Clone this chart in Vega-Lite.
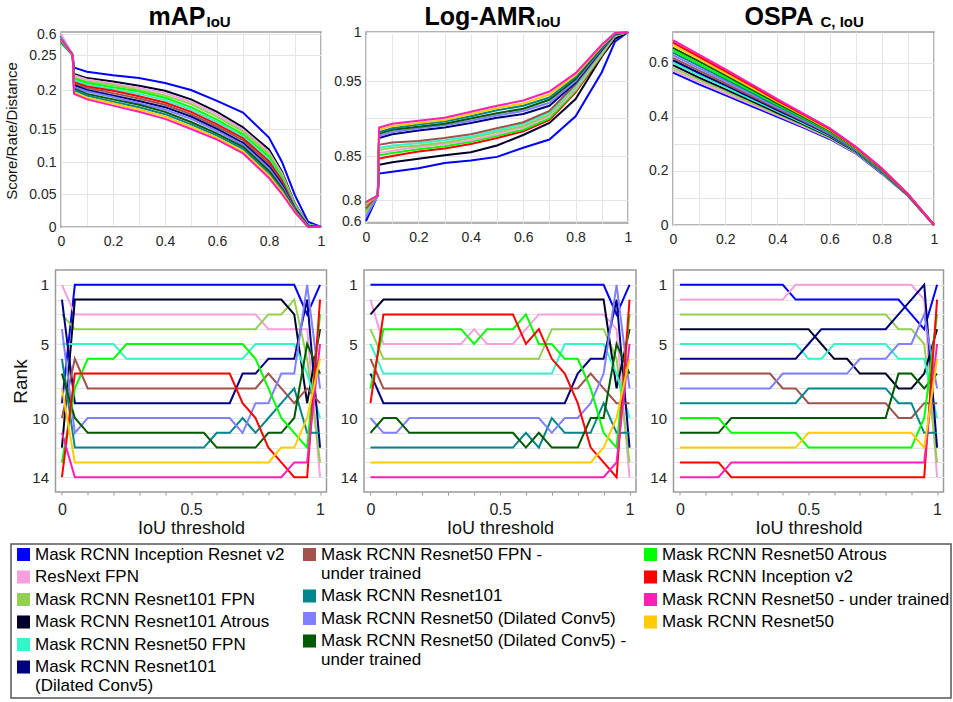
{
"$schema": "https://vega.github.io/schema/vega-lite/v6.json",
"background": "white",
"padding": {"left": 4, "top": 3, "right": 0, "bottom": 0},
"config": {
  "font": "Liberation Sans",
  "view": {"stroke": "#9a9a9a", "strokeWidth": 1.5},
  "axis": {"labelColor": "#262626", "titleColor": "#111111", "gridColor": "#e4e4e4", "domain": false, "ticks": false, "titleFontWeight": "normal", "labelFlush": false, "labelOverlap": false},
  "legend": {"labelFontSize": 17, "labelColor": "#000000", "labelLimit": 600, "labelOffset": 3, "symbolType": "square", "symbolSize": 170, "symbolStrokeWidth": 0, "symbolOpacity": 1, "rowPadding": 4.5, "padding": 0}
},
"datasets": {
"map": [
{"s":"A","x":0,"y":0.55},{"s":"A","x":0.045,"y":0.25},{"s":"A","x":0.05,"y":0.232},{"s":"A","x":0.1,"y":0.226},{"s":"A","x":0.2,"y":0.221},{"s":"A","x":0.3,"y":0.217},{"s":"A","x":0.4,"y":0.21},{"s":"A","x":0.5,"y":0.2},{"s":"A","x":0.6,"y":0.186},{"s":"A","x":0.7,"y":0.171},{"s":"A","x":0.8,"y":0.137},{"s":"A","x":0.85,"y":0.1},{"s":"A","x":0.9,"y":0.048},{"s":"A","x":0.95,"y":0.008},{"s":"A","x":1,"y":0},
{"s":"D","x":0,"y":0.57},{"s":"D","x":0.045,"y":0.25},{"s":"D","x":0.05,"y":0.223},{"s":"D","x":0.1,"y":0.217},{"s":"D","x":0.2,"y":0.212},{"s":"D","x":0.3,"y":0.206},{"s":"D","x":0.4,"y":0.199},{"s":"D","x":0.5,"y":0.188},{"s":"D","x":0.6,"y":0.172},{"s":"D","x":0.7,"y":0.152},{"s":"D","x":0.8,"y":0.119},{"s":"D","x":0.85,"y":0.085},{"s":"D","x":0.9,"y":0.035},{"s":"D","x":0.95,"y":0.004},{"s":"D","x":1,"y":0},
{"s":"B","x":0,"y":0.6},{"s":"B","x":0.045,"y":0.25},{"s":"B","x":0.05,"y":0.221},{"s":"B","x":0.1,"y":0.215},{"s":"B","x":0.2,"y":0.209},{"s":"B","x":0.3,"y":0.203},{"s":"B","x":0.4,"y":0.196},{"s":"B","x":0.5,"y":0.185},{"s":"B","x":0.6,"y":0.169},{"s":"B","x":0.7,"y":0.149},{"s":"B","x":0.8,"y":0.115},{"s":"B","x":0.85,"y":0.082},{"s":"B","x":0.9,"y":0.034},{"s":"B","x":0.95,"y":0.004},{"s":"B","x":1,"y":0},
{"s":"C","x":0,"y":0.5},{"s":"C","x":0.045,"y":0.25},{"s":"C","x":0.05,"y":0.218},{"s":"C","x":0.1,"y":0.212},{"s":"C","x":0.2,"y":0.207},{"s":"C","x":0.3,"y":0.2},{"s":"C","x":0.4,"y":0.193},{"s":"C","x":0.5,"y":0.182},{"s":"C","x":0.6,"y":0.166},{"s":"C","x":0.7,"y":0.146},{"s":"C","x":0.8,"y":0.112},{"s":"C","x":0.85,"y":0.079},{"s":"C","x":0.9,"y":0.033},{"s":"C","x":0.95,"y":0.003},{"s":"C","x":1,"y":0},
{"s":"K","x":0,"y":0.45},{"s":"K","x":0.045,"y":0.25},{"s":"K","x":0.05,"y":0.216},{"s":"K","x":0.1,"y":0.21},{"s":"K","x":0.2,"y":0.204},{"s":"K","x":0.3,"y":0.198},{"s":"K","x":0.4,"y":0.19},{"s":"K","x":0.5,"y":0.178},{"s":"K","x":0.6,"y":0.162},{"s":"K","x":0.7,"y":0.142},{"s":"K","x":0.8,"y":0.108},{"s":"K","x":0.85,"y":0.076},{"s":"K","x":0.9,"y":0.032},{"s":"K","x":0.95,"y":0.003},{"s":"K","x":1,"y":0},
{"s":"E","x":0,"y":0.55},{"s":"E","x":0.045,"y":0.25},{"s":"E","x":0.05,"y":0.214},{"s":"E","x":0.1,"y":0.207},{"s":"E","x":0.2,"y":0.201},{"s":"E","x":0.3,"y":0.195},{"s":"E","x":0.4,"y":0.187},{"s":"E","x":0.5,"y":0.175},{"s":"E","x":0.6,"y":0.159},{"s":"E","x":0.7,"y":0.139},{"s":"E","x":0.8,"y":0.104},{"s":"E","x":0.85,"y":0.073},{"s":"E","x":0.9,"y":0.031},{"s":"E","x":0.95,"y":0.003},{"s":"E","x":1,"y":0},
{"s":"L","x":0,"y":0.52},{"s":"L","x":0.045,"y":0.25},{"s":"L","x":0.05,"y":0.211},{"s":"L","x":0.1,"y":0.205},{"s":"L","x":0.2,"y":0.199},{"s":"L","x":0.3,"y":0.192},{"s":"L","x":0.4,"y":0.184},{"s":"L","x":0.5,"y":0.172},{"s":"L","x":0.6,"y":0.156},{"s":"L","x":0.7,"y":0.136},{"s":"L","x":0.8,"y":0.101},{"s":"L","x":0.85,"y":0.071},{"s":"L","x":0.9,"y":0.029},{"s":"L","x":0.95,"y":0.002},{"s":"L","x":1,"y":0},
{"s":"G","x":0,"y":0.53},{"s":"G","x":0.045,"y":0.25},{"s":"G","x":0.05,"y":0.209},{"s":"G","x":0.1,"y":0.203},{"s":"G","x":0.2,"y":0.196},{"s":"G","x":0.3,"y":0.189},{"s":"G","x":0.4,"y":0.181},{"s":"G","x":0.5,"y":0.169},{"s":"G","x":0.6,"y":0.153},{"s":"G","x":0.7,"y":0.133},{"s":"G","x":0.8,"y":0.097},{"s":"G","x":0.85,"y":0.068},{"s":"G","x":0.9,"y":0.028},{"s":"G","x":0.95,"y":0.002},{"s":"G","x":1,"y":0},
{"s":"F","x":0,"y":0.5},{"s":"F","x":0.045,"y":0.25},{"s":"F","x":0.05,"y":0.207},{"s":"F","x":0.1,"y":0.2},{"s":"F","x":0.2,"y":0.193},{"s":"F","x":0.3,"y":0.186},{"s":"F","x":0.4,"y":0.178},{"s":"F","x":0.5,"y":0.166},{"s":"F","x":0.6,"y":0.15},{"s":"F","x":0.7,"y":0.129},{"s":"F","x":0.8,"y":0.093},{"s":"F","x":0.85,"y":0.065},{"s":"F","x":0.9,"y":0.027},{"s":"F","x":0.95,"y":0.002},{"s":"F","x":1,"y":0},
{"s":"I","x":0,"y":0.54},{"s":"I","x":0.045,"y":0.25},{"s":"I","x":0.05,"y":0.204},{"s":"I","x":0.1,"y":0.198},{"s":"I","x":0.2,"y":0.191},{"s":"I","x":0.3,"y":0.183},{"s":"I","x":0.4,"y":0.175},{"s":"I","x":0.5,"y":0.163},{"s":"I","x":0.6,"y":0.147},{"s":"I","x":0.7,"y":0.126},{"s":"I","x":0.8,"y":0.09},{"s":"I","x":0.85,"y":0.062},{"s":"I","x":0.9,"y":0.026},{"s":"I","x":0.95,"y":0.001},{"s":"I","x":1,"y":0},
{"s":"J","x":0,"y":0.48},{"s":"J","x":0.045,"y":0.25},{"s":"J","x":0.05,"y":0.202},{"s":"J","x":0.1,"y":0.195},{"s":"J","x":0.2,"y":0.188},{"s":"J","x":0.3,"y":0.181},{"s":"J","x":0.4,"y":0.172},{"s":"J","x":0.5,"y":0.159},{"s":"J","x":0.6,"y":0.143},{"s":"J","x":0.7,"y":0.123},{"s":"J","x":0.8,"y":0.086},{"s":"J","x":0.85,"y":0.059},{"s":"J","x":0.9,"y":0.025},{"s":"J","x":0.95,"y":0.001},{"s":"J","x":1,"y":0},
{"s":"H","x":0,"y":0.47},{"s":"H","x":0.045,"y":0.25},{"s":"H","x":0.05,"y":0.2},{"s":"H","x":0.1,"y":0.193},{"s":"H","x":0.2,"y":0.185},{"s":"H","x":0.3,"y":0.178},{"s":"H","x":0.4,"y":0.169},{"s":"H","x":0.5,"y":0.156},{"s":"H","x":0.6,"y":0.14},{"s":"H","x":0.7,"y":0.12},{"s":"H","x":0.8,"y":0.082},{"s":"H","x":0.85,"y":0.056},{"s":"H","x":0.9,"y":0.024},{"s":"H","x":0.95,"y":0.001},{"s":"H","x":1,"y":0},
{"s":"N","x":0,"y":0.5},{"s":"N","x":0.045,"y":0.25},{"s":"N","x":0.05,"y":0.197},{"s":"N","x":0.1,"y":0.19},{"s":"N","x":0.2,"y":0.183},{"s":"N","x":0.3,"y":0.175},{"s":"N","x":0.4,"y":0.166},{"s":"N","x":0.5,"y":0.153},{"s":"N","x":0.6,"y":0.137},{"s":"N","x":0.7,"y":0.116},{"s":"N","x":0.8,"y":0.079},{"s":"N","x":0.85,"y":0.053},{"s":"N","x":0.9,"y":0.023},{"s":"N","x":0.95,"y":0},{"s":"N","x":1,"y":0},
{"s":"M","x":0,"y":0.52},{"s":"M","x":0.045,"y":0.25},{"s":"M","x":0.05,"y":0.195},{"s":"M","x":0.1,"y":0.188},{"s":"M","x":0.2,"y":0.18},{"s":"M","x":0.3,"y":0.172},{"s":"M","x":0.4,"y":0.163},{"s":"M","x":0.5,"y":0.15},{"s":"M","x":0.6,"y":0.134},{"s":"M","x":0.7,"y":0.113},{"s":"M","x":0.8,"y":0.075},{"s":"M","x":0.85,"y":0.05},{"s":"M","x":0.9,"y":0.022},{"s":"M","x":0.95,"y":0},{"s":"M","x":1,"y":0}
],
"amr": [
{"s":"A","x":0,"y":0.6},{"s":"A","x":0.045,"y":0.805},{"s":"A","x":0.05,"y":0.83},{"s":"A","x":0.1,"y":0.832},{"s":"A","x":0.2,"y":0.836},{"s":"A","x":0.3,"y":0.842},{"s":"A","x":0.4,"y":0.845},{"s":"A","x":0.5,"y":0.849},{"s":"A","x":0.6,"y":0.861},{"s":"A","x":0.7,"y":0.872},{"s":"A","x":0.8,"y":0.903},{"s":"A","x":0.9,"y":0.959},{"s":"A","x":0.95,"y":0.99},{"s":"A","x":1,"y":1},
{"s":"D","x":0,"y":0.75},{"s":"D","x":0.045,"y":0.805},{"s":"D","x":0.05,"y":0.84},{"s":"D","x":0.1,"y":0.843},{"s":"D","x":0.2,"y":0.847},{"s":"D","x":0.3,"y":0.851},{"s":"D","x":0.4,"y":0.855},{"s":"D","x":0.5,"y":0.864},{"s":"D","x":0.6,"y":0.878},{"s":"D","x":0.7,"y":0.894},{"s":"D","x":0.8,"y":0.926},{"s":"D","x":0.9,"y":0.975},{"s":"D","x":0.95,"y":0.993},{"s":"D","x":1,"y":1},
{"s":"L","x":0,"y":0.72},{"s":"L","x":0.045,"y":0.805},{"s":"L","x":0.05,"y":0.847},{"s":"L","x":0.1,"y":0.85},{"s":"L","x":0.2,"y":0.856},{"s":"L","x":0.3,"y":0.86},{"s":"L","x":0.4,"y":0.866},{"s":"L","x":0.5,"y":0.874},{"s":"L","x":0.6,"y":0.883},{"s":"L","x":0.7,"y":0.898},{"s":"L","x":0.8,"y":0.935},{"s":"L","x":0.9,"y":0.976},{"s":"L","x":0.95,"y":0.996},{"s":"L","x":1,"y":1},
{"s":"K","x":0,"y":0.7},{"s":"K","x":0.045,"y":0.805},{"s":"K","x":0.05,"y":0.851},{"s":"K","x":0.1,"y":0.854},{"s":"K","x":0.2,"y":0.859},{"s":"K","x":0.3,"y":0.863},{"s":"K","x":0.4,"y":0.869},{"s":"K","x":0.5,"y":0.877},{"s":"K","x":0.6,"y":0.885},{"s":"K","x":0.7,"y":0.9},{"s":"K","x":0.8,"y":0.937},{"s":"K","x":0.9,"y":0.977},{"s":"K","x":0.95,"y":0.996},{"s":"K","x":1,"y":1},
{"s":"B","x":0,"y":0.66},{"s":"B","x":0.045,"y":0.805},{"s":"B","x":0.05,"y":0.854},{"s":"B","x":0.1,"y":0.857},{"s":"B","x":0.2,"y":0.862},{"s":"B","x":0.3,"y":0.866},{"s":"B","x":0.4,"y":0.871},{"s":"B","x":0.5,"y":0.879},{"s":"B","x":0.6,"y":0.888},{"s":"B","x":0.7,"y":0.903},{"s":"B","x":0.8,"y":0.939},{"s":"B","x":0.9,"y":0.978},{"s":"B","x":0.95,"y":0.996},{"s":"B","x":1,"y":1},
{"s":"C","x":0,"y":0.68},{"s":"C","x":0.045,"y":0.805},{"s":"C","x":0.05,"y":0.858},{"s":"C","x":0.1,"y":0.861},{"s":"C","x":0.2,"y":0.864},{"s":"C","x":0.3,"y":0.868},{"s":"C","x":0.4,"y":0.874},{"s":"C","x":0.5,"y":0.882},{"s":"C","x":0.6,"y":0.89},{"s":"C","x":0.7,"y":0.905},{"s":"C","x":0.8,"y":0.942},{"s":"C","x":0.9,"y":0.979},{"s":"C","x":0.95,"y":0.997},{"s":"C","x":1,"y":1},
{"s":"E","x":0,"y":0.74},{"s":"E","x":0.045,"y":0.805},{"s":"E","x":0.05,"y":0.861},{"s":"E","x":0.1,"y":0.864},{"s":"E","x":0.2,"y":0.867},{"s":"E","x":0.3,"y":0.871},{"s":"E","x":0.4,"y":0.876},{"s":"E","x":0.5,"y":0.884},{"s":"E","x":0.6,"y":0.893},{"s":"E","x":0.7,"y":0.908},{"s":"E","x":0.8,"y":0.944},{"s":"E","x":0.9,"y":0.98},{"s":"E","x":0.95,"y":0.997},{"s":"E","x":1,"y":1},
{"s":"G","x":0,"y":0.72},{"s":"G","x":0.045,"y":0.805},{"s":"G","x":0.05,"y":0.865},{"s":"G","x":0.1,"y":0.868},{"s":"G","x":0.2,"y":0.87},{"s":"G","x":0.3,"y":0.874},{"s":"G","x":0.4,"y":0.879},{"s":"G","x":0.5,"y":0.887},{"s":"G","x":0.6,"y":0.895},{"s":"G","x":0.7,"y":0.91},{"s":"G","x":0.8,"y":0.946},{"s":"G","x":0.9,"y":0.981},{"s":"G","x":0.95,"y":0.997},{"s":"G","x":1,"y":1},
{"s":"F","x":0,"y":0.76},{"s":"F","x":0.045,"y":0.805},{"s":"F","x":0.05,"y":0.874},{"s":"F","x":0.1,"y":0.879},{"s":"F","x":0.2,"y":0.884},{"s":"F","x":0.3,"y":0.888},{"s":"F","x":0.4,"y":0.894},{"s":"F","x":0.5,"y":0.901},{"s":"F","x":0.6,"y":0.906},{"s":"F","x":0.7,"y":0.917},{"s":"F","x":0.8,"y":0.948},{"s":"F","x":0.9,"y":0.982},{"s":"F","x":0.95,"y":0.998},{"s":"F","x":1,"y":1},
{"s":"I","x":0,"y":0.64},{"s":"I","x":0.045,"y":0.805},{"s":"I","x":0.05,"y":0.877},{"s":"I","x":0.1,"y":0.882},{"s":"I","x":0.2,"y":0.887},{"s":"I","x":0.3,"y":0.891},{"s":"I","x":0.4,"y":0.897},{"s":"I","x":0.5,"y":0.904},{"s":"I","x":0.6,"y":0.91},{"s":"I","x":0.7,"y":0.921},{"s":"I","x":0.8,"y":0.95},{"s":"I","x":0.9,"y":0.983},{"s":"I","x":0.95,"y":0.998},{"s":"I","x":1,"y":1},
{"s":"J","x":0,"y":0.77},{"s":"J","x":0.045,"y":0.805},{"s":"J","x":0.05,"y":0.88},{"s":"J","x":0.1,"y":0.885},{"s":"J","x":0.2,"y":0.889},{"s":"J","x":0.3,"y":0.893},{"s":"J","x":0.4,"y":0.9},{"s":"J","x":0.5,"y":0.907},{"s":"J","x":0.6,"y":0.913},{"s":"J","x":0.7,"y":0.925},{"s":"J","x":0.8,"y":0.952},{"s":"J","x":0.9,"y":0.984},{"s":"J","x":0.95,"y":0.998},{"s":"J","x":1,"y":1},
{"s":"H","x":0,"y":0.78},{"s":"H","x":0.045,"y":0.805},{"s":"H","x":0.05,"y":0.882},{"s":"H","x":0.1,"y":0.887},{"s":"H","x":0.2,"y":0.892},{"s":"H","x":0.3,"y":0.896},{"s":"H","x":0.4,"y":0.903},{"s":"H","x":0.5,"y":0.911},{"s":"H","x":0.6,"y":0.917},{"s":"H","x":0.7,"y":0.928},{"s":"H","x":0.8,"y":0.954},{"s":"H","x":0.9,"y":0.985},{"s":"H","x":0.95,"y":0.998},{"s":"H","x":1,"y":1},
{"s":"N","x":0,"y":0.76},{"s":"N","x":0.045,"y":0.805},{"s":"N","x":0.05,"y":0.885},{"s":"N","x":0.1,"y":0.89},{"s":"N","x":0.2,"y":0.894},{"s":"N","x":0.3,"y":0.898},{"s":"N","x":0.4,"y":0.906},{"s":"N","x":0.5,"y":0.914},{"s":"N","x":0.6,"y":0.92},{"s":"N","x":0.7,"y":0.932},{"s":"N","x":0.8,"y":0.956},{"s":"N","x":0.9,"y":0.986},{"s":"N","x":0.95,"y":0.999},{"s":"N","x":1,"y":1},
{"s":"M","x":0,"y":0.78},{"s":"M","x":0.045,"y":0.805},{"s":"M","x":0.05,"y":0.888},{"s":"M","x":0.1,"y":0.893},{"s":"M","x":0.2,"y":0.897},{"s":"M","x":0.3,"y":0.901},{"s":"M","x":0.4,"y":0.909},{"s":"M","x":0.5,"y":0.917},{"s":"M","x":0.6,"y":0.924},{"s":"M","x":0.7,"y":0.936},{"s":"M","x":0.8,"y":0.958},{"s":"M","x":0.9,"y":0.987},{"s":"M","x":0.95,"y":0.999},{"s":"M","x":1,"y":1}
],
"ospa": [
{"s":"A","x":0,"y":0.563},{"s":"A","x":0.1,"y":0.52},{"s":"A","x":0.2,"y":0.48},{"s":"A","x":0.3,"y":0.44},{"s":"A","x":0.4,"y":0.4},{"s":"A","x":0.5,"y":0.36},{"s":"A","x":0.6,"y":0.318},{"s":"A","x":0.7,"y":0.265},{"s":"A","x":0.8,"y":0.19},{"s":"A","x":0.9,"y":0.108},{"s":"A","x":1,"y":0},
{"s":"B","x":0,"y":0.572},{"s":"B","x":0.1,"y":0.528},{"s":"B","x":0.2,"y":0.487},{"s":"B","x":0.3,"y":0.446},{"s":"B","x":0.4,"y":0.405},{"s":"B","x":0.5,"y":0.364},{"s":"B","x":0.6,"y":0.321},{"s":"B","x":0.7,"y":0.267},{"s":"B","x":0.8,"y":0.192},{"s":"B","x":0.9,"y":0.109},{"s":"B","x":1,"y":0},
{"s":"C","x":0,"y":0.581},{"s":"C","x":0.1,"y":0.537},{"s":"C","x":0.2,"y":0.495},{"s":"C","x":0.3,"y":0.452},{"s":"C","x":0.4,"y":0.41},{"s":"C","x":0.5,"y":0.368},{"s":"C","x":0.6,"y":0.324},{"s":"C","x":0.7,"y":0.269},{"s":"C","x":0.8,"y":0.193},{"s":"C","x":0.9,"y":0.109},{"s":"C","x":1,"y":0},
{"s":"D","x":0,"y":0.591},{"s":"D","x":0.1,"y":0.545},{"s":"D","x":0.2,"y":0.502},{"s":"D","x":0.3,"y":0.459},{"s":"D","x":0.4,"y":0.415},{"s":"D","x":0.5,"y":0.372},{"s":"D","x":0.6,"y":0.327},{"s":"D","x":0.7,"y":0.271},{"s":"D","x":0.8,"y":0.195},{"s":"D","x":0.9,"y":0.11},{"s":"D","x":1,"y":0},
{"s":"E","x":0,"y":0.6},{"s":"E","x":0.1,"y":0.554},{"s":"E","x":0.2,"y":0.51},{"s":"E","x":0.3,"y":0.465},{"s":"E","x":0.4,"y":0.42},{"s":"E","x":0.5,"y":0.376},{"s":"E","x":0.6,"y":0.33},{"s":"E","x":0.7,"y":0.273},{"s":"E","x":0.8,"y":0.196},{"s":"E","x":0.9,"y":0.11},{"s":"E","x":1,"y":0},
{"s":"F","x":0,"y":0.609},{"s":"F","x":0.1,"y":0.562},{"s":"F","x":0.2,"y":0.517},{"s":"F","x":0.3,"y":0.471},{"s":"F","x":0.4,"y":0.425},{"s":"F","x":0.5,"y":0.38},{"s":"F","x":0.6,"y":0.333},{"s":"F","x":0.7,"y":0.275},{"s":"F","x":0.8,"y":0.198},{"s":"F","x":0.9,"y":0.111},{"s":"F","x":1,"y":0},
{"s":"G","x":0,"y":0.618},{"s":"G","x":0.1,"y":0.571},{"s":"G","x":0.2,"y":0.524},{"s":"G","x":0.3,"y":0.477},{"s":"G","x":0.4,"y":0.43},{"s":"G","x":0.5,"y":0.384},{"s":"G","x":0.6,"y":0.336},{"s":"G","x":0.7,"y":0.277},{"s":"G","x":0.8,"y":0.199},{"s":"G","x":0.9,"y":0.111},{"s":"G","x":1,"y":0},
{"s":"I","x":0,"y":0.628},{"s":"I","x":0.1,"y":0.579},{"s":"I","x":0.2,"y":0.532},{"s":"I","x":0.3,"y":0.484},{"s":"I","x":0.4,"y":0.435},{"s":"I","x":0.5,"y":0.388},{"s":"I","x":0.6,"y":0.34},{"s":"I","x":0.7,"y":0.278},{"s":"I","x":0.8,"y":0.201},{"s":"I","x":0.9,"y":0.112},{"s":"I","x":1,"y":0},
{"s":"H","x":0,"y":0.637},{"s":"H","x":0.1,"y":0.588},{"s":"H","x":0.2,"y":0.539},{"s":"H","x":0.3,"y":0.49},{"s":"H","x":0.4,"y":0.44},{"s":"H","x":0.5,"y":0.392},{"s":"H","x":0.6,"y":0.343},{"s":"H","x":0.7,"y":0.28},{"s":"H","x":0.8,"y":0.202},{"s":"H","x":0.9,"y":0.112},{"s":"H","x":1,"y":0},
{"s":"K","x":0,"y":0.646},{"s":"K","x":0.1,"y":0.596},{"s":"K","x":0.2,"y":0.546},{"s":"K","x":0.3,"y":0.496},{"s":"K","x":0.4,"y":0.445},{"s":"K","x":0.5,"y":0.396},{"s":"K","x":0.6,"y":0.346},{"s":"K","x":0.7,"y":0.282},{"s":"K","x":0.8,"y":0.204},{"s":"K","x":0.9,"y":0.113},{"s":"K","x":1,"y":0},
{"s":"J","x":0,"y":0.655},{"s":"J","x":0.1,"y":0.605},{"s":"J","x":0.2,"y":0.554},{"s":"J","x":0.3,"y":0.502},{"s":"J","x":0.4,"y":0.45},{"s":"J","x":0.5,"y":0.4},{"s":"J","x":0.6,"y":0.349},{"s":"J","x":0.7,"y":0.284},{"s":"J","x":0.8,"y":0.205},{"s":"J","x":0.9,"y":0.113},{"s":"J","x":1,"y":0},
{"s":"N","x":0,"y":0.665},{"s":"N","x":0.1,"y":0.613},{"s":"N","x":0.2,"y":0.561},{"s":"N","x":0.3,"y":0.508},{"s":"N","x":0.4,"y":0.455},{"s":"N","x":0.5,"y":0.404},{"s":"N","x":0.6,"y":0.352},{"s":"N","x":0.7,"y":0.286},{"s":"N","x":0.8,"y":0.207},{"s":"N","x":0.9,"y":0.114},{"s":"N","x":1,"y":0},
{"s":"L","x":0,"y":0.674},{"s":"L","x":0.1,"y":0.622},{"s":"L","x":0.2,"y":0.569},{"s":"L","x":0.3,"y":0.515},{"s":"L","x":0.4,"y":0.46},{"s":"L","x":0.5,"y":0.408},{"s":"L","x":0.6,"y":0.355},{"s":"L","x":0.7,"y":0.288},{"s":"L","x":0.8,"y":0.208},{"s":"L","x":0.9,"y":0.114},{"s":"L","x":1,"y":0},
{"s":"M","x":0,"y":0.683},{"s":"M","x":0.1,"y":0.63},{"s":"M","x":0.2,"y":0.576},{"s":"M","x":0.3,"y":0.521},{"s":"M","x":0.4,"y":0.465},{"s":"M","x":0.5,"y":0.412},{"s":"M","x":0.6,"y":0.358},{"s":"M","x":0.7,"y":0.29},{"s":"M","x":0.8,"y":0.21},{"s":"M","x":0.9,"y":0.115},{"s":"M","x":1,"y":0}
],
"rmap": [
{"s":"A","x":0,"y":9},{"s":"A","x":0.05,"y":1},{"s":"A","x":0.9,"y":1},{"s":"A","x":0.95,"y":3},{"s":"A","x":1,"y":1},
{"s":"B","x":0,"y":1},{"s":"B","x":0.05,"y":3},{"s":"B","x":0.75,"y":3},{"s":"B","x":0.8,"y":4},{"s":"B","x":0.95,"y":4},{"s":"B","x":1,"y":14},
{"s":"C","x":0,"y":3},{"s":"C","x":0.05,"y":4},{"s":"C","x":0.75,"y":4},{"s":"C","x":0.8,"y":3},{"s":"C","x":0.85,"y":3},{"s":"C","x":0.9,"y":2},{"s":"C","x":0.95,"y":6},{"s":"C","x":1,"y":13},
{"s":"D","x":0,"y":12},{"s":"D","x":0.05,"y":2},{"s":"D","x":0.85,"y":2},{"s":"D","x":0.9,"y":3},{"s":"D","x":0.95,"y":9},{"s":"D","x":1,"y":4},
{"s":"E","x":0,"y":5},{"s":"E","x":0.2,"y":5},{"s":"E","x":0.25,"y":6},{"s":"E","x":0.7,"y":6},{"s":"E","x":0.75,"y":5},{"s":"E","x":0.9,"y":5},{"s":"E","x":0.95,"y":7},{"s":"E","x":1,"y":10},
{"s":"F","x":0,"y":2},{"s":"F","x":0.05,"y":9},{"s":"F","x":0.65,"y":9},{"s":"F","x":0.7,"y":7},{"s":"F","x":0.75,"y":7},{"s":"F","x":0.8,"y":6},{"s":"F","x":0.9,"y":6},{"s":"F","x":0.95,"y":2},{"s":"F","x":1,"y":12},
{"s":"G","x":0,"y":10},{"s":"G","x":0.05,"y":6},{"s":"G","x":0.1,"y":8},{"s":"G","x":0.75,"y":8},{"s":"G","x":0.8,"y":7},{"s":"G","x":0.85,"y":8},{"s":"G","x":0.9,"y":9},{"s":"G","x":0.95,"y":8},{"s":"G","x":1,"y":9},
{"s":"H","x":0,"y":6},{"s":"H","x":0.05,"y":12},{"s":"H","x":0.55,"y":12},{"s":"H","x":0.6,"y":11},{"s":"H","x":0.65,"y":11},{"s":"H","x":0.7,"y":10},{"s":"H","x":0.75,"y":11},{"s":"H","x":0.8,"y":10},{"s":"H","x":0.85,"y":9},{"s":"H","x":0.9,"y":8},{"s":"H","x":0.95,"y":11},{"s":"H","x":1,"y":11},
{"s":"I","x":0,"y":4},{"s":"I","x":0.05,"y":11},{"s":"I","x":0.1,"y":10},{"s":"I","x":0.65,"y":10},{"s":"I","x":0.7,"y":11},{"s":"I","x":0.75,"y":9},{"s":"I","x":0.8,"y":9},{"s":"I","x":0.85,"y":7},{"s":"I","x":0.9,"y":7},{"s":"I","x":0.95,"y":1},{"s":"I","x":1,"y":8},
{"s":"J","x":0,"y":7},{"s":"J","x":0.05,"y":10},{"s":"J","x":0.1,"y":11},{"s":"J","x":0.55,"y":11},{"s":"J","x":0.6,"y":12},{"s":"J","x":0.75,"y":12},{"s":"J","x":0.8,"y":11},{"s":"J","x":0.85,"y":11},{"s":"J","x":0.9,"y":10},{"s":"J","x":0.95,"y":5},{"s":"J","x":1,"y":7},
{"s":"K","x":0,"y":13},{"s":"K","x":0.05,"y":8},{"s":"K","x":0.1,"y":6},{"s":"K","x":0.2,"y":6},{"s":"K","x":0.25,"y":5},{"s":"K","x":0.7,"y":5},{"s":"K","x":0.75,"y":6},{"s":"K","x":0.8,"y":8},{"s":"K","x":0.85,"y":10},{"s":"K","x":0.9,"y":11},{"s":"K","x":0.95,"y":12},{"s":"K","x":1,"y":3},
{"s":"L","x":0,"y":14},{"s":"L","x":0.05,"y":7},{"s":"L","x":0.65,"y":7},{"s":"L","x":0.7,"y":9},{"s":"L","x":0.75,"y":10},{"s":"L","x":0.8,"y":12},{"s":"L","x":0.85,"y":13},{"s":"L","x":0.9,"y":14},{"s":"L","x":0.95,"y":14},{"s":"L","x":1,"y":2},
{"s":"M","x":0,"y":11},{"s":"M","x":0.05,"y":14},{"s":"M","x":0.85,"y":14},{"s":"M","x":0.9,"y":13},{"s":"M","x":0.95,"y":13},{"s":"M","x":1,"y":5},
{"s":"N","x":0,"y":8},{"s":"N","x":0.05,"y":13},{"s":"N","x":0.8,"y":13},{"s":"N","x":0.85,"y":12},{"s":"N","x":0.9,"y":12},{"s":"N","x":0.95,"y":10},{"s":"N","x":1,"y":6}
],
"ramr": [
{"s":"A","x":0,"y":1},{"s":"A","x":0.9,"y":1},{"s":"A","x":0.95,"y":3},{"s":"A","x":1,"y":1},
{"s":"B","x":0,"y":2},{"s":"B","x":0.05,"y":5},{"s":"B","x":0.35,"y":5},{"s":"B","x":0.4,"y":4},{"s":"B","x":0.45,"y":5},{"s":"B","x":0.55,"y":5},{"s":"B","x":0.6,"y":4},{"s":"B","x":0.65,"y":3},{"s":"B","x":0.9,"y":3},{"s":"B","x":0.95,"y":4},{"s":"B","x":1,"y":14},
{"s":"C","x":0,"y":4},{"s":"C","x":0.05,"y":6},{"s":"C","x":0.65,"y":6},{"s":"C","x":0.7,"y":4},{"s":"C","x":0.9,"y":4},{"s":"C","x":0.95,"y":6},{"s":"C","x":1,"y":13},
{"s":"D","x":0,"y":3},{"s":"D","x":0.05,"y":2},{"s":"D","x":0.9,"y":2},{"s":"D","x":0.95,"y":8},{"s":"D","x":1,"y":4},
{"s":"E","x":0,"y":5},{"s":"E","x":0.05,"y":7},{"s":"E","x":0.7,"y":7},{"s":"E","x":0.75,"y":5},{"s":"E","x":0.9,"y":5},{"s":"E","x":0.95,"y":7},{"s":"E","x":1,"y":10},
{"s":"F","x":0,"y":7},{"s":"F","x":0.05,"y":9},{"s":"F","x":0.75,"y":9},{"s":"F","x":0.8,"y":7},{"s":"F","x":0.85,"y":6},{"s":"F","x":0.9,"y":6},{"s":"F","x":0.95,"y":2},{"s":"F","x":1,"y":12},
{"s":"G","x":0,"y":6},{"s":"G","x":0.05,"y":8},{"s":"G","x":0.8,"y":8},{"s":"G","x":0.85,"y":7},{"s":"G","x":0.9,"y":8},{"s":"G","x":0.95,"y":9},{"s":"G","x":1,"y":9},
{"s":"H","x":0,"y":12},{"s":"H","x":0.55,"y":12},{"s":"H","x":0.6,"y":11},{"s":"H","x":0.65,"y":12},{"s":"H","x":0.7,"y":10},{"s":"H","x":0.75,"y":11},{"s":"H","x":0.85,"y":11},{"s":"H","x":0.9,"y":9},{"s":"H","x":0.95,"y":11},{"s":"H","x":1,"y":11},
{"s":"I","x":0,"y":10},{"s":"I","x":0.05,"y":11},{"s":"I","x":0.1,"y":11},{"s":"I","x":0.15,"y":10},{"s":"I","x":0.65,"y":10},{"s":"I","x":0.7,"y":11},{"s":"I","x":0.75,"y":10},{"s":"I","x":0.8,"y":10},{"s":"I","x":0.85,"y":9},{"s":"I","x":0.9,"y":7},{"s":"I","x":0.95,"y":1},{"s":"I","x":1,"y":8},
{"s":"J","x":0,"y":11},{"s":"J","x":0.05,"y":10},{"s":"J","x":0.1,"y":10},{"s":"J","x":0.15,"y":11},{"s":"J","x":0.55,"y":11},{"s":"J","x":0.6,"y":12},{"s":"J","x":0.65,"y":11},{"s":"J","x":0.7,"y":12},{"s":"J","x":0.8,"y":12},{"s":"J","x":0.85,"y":10},{"s":"J","x":0.9,"y":10},{"s":"J","x":0.95,"y":5},{"s":"J","x":1,"y":7},
{"s":"K","x":0,"y":8},{"s":"K","x":0.05,"y":4},{"s":"K","x":0.35,"y":4},{"s":"K","x":0.4,"y":5},{"s":"K","x":0.45,"y":4},{"s":"K","x":0.55,"y":4},{"s":"K","x":0.6,"y":3},{"s":"K","x":0.65,"y":5},{"s":"K","x":0.7,"y":5},{"s":"K","x":0.75,"y":6},{"s":"K","x":0.8,"y":6},{"s":"K","x":0.85,"y":8},{"s":"K","x":0.9,"y":11},{"s":"K","x":0.95,"y":12},{"s":"K","x":1,"y":3},
{"s":"L","x":0,"y":9},{"s":"L","x":0.05,"y":3},{"s":"L","x":0.55,"y":3},{"s":"L","x":0.6,"y":5},{"s":"L","x":0.65,"y":4},{"s":"L","x":0.7,"y":6},{"s":"L","x":0.75,"y":7},{"s":"L","x":0.8,"y":9},{"s":"L","x":0.85,"y":12},{"s":"L","x":0.9,"y":13},{"s":"L","x":0.95,"y":14},{"s":"L","x":1,"y":2},
{"s":"M","x":0,"y":14},{"s":"M","x":0.9,"y":14},{"s":"M","x":0.95,"y":13},{"s":"M","x":1,"y":5},
{"s":"N","x":0,"y":13},{"s":"N","x":0.85,"y":13},{"s":"N","x":0.9,"y":12},{"s":"N","x":0.95,"y":10},{"s":"N","x":1,"y":6}
],
"rospa": [
{"s":"A","x":0,"y":1},{"s":"A","x":0.4,"y":1},{"s":"A","x":0.45,"y":2},{"s":"A","x":0.85,"y":2},{"s":"A","x":0.9,"y":3},{"s":"A","x":0.95,"y":4},{"s":"A","x":1,"y":1},
{"s":"B","x":0,"y":2},{"s":"B","x":0.4,"y":2},{"s":"B","x":0.45,"y":1},{"s":"B","x":0.9,"y":1},{"s":"B","x":0.95,"y":2},{"s":"B","x":1,"y":14},
{"s":"C","x":0,"y":3},{"s":"C","x":0.8,"y":3},{"s":"C","x":0.85,"y":4},{"s":"C","x":0.9,"y":4},{"s":"C","x":0.95,"y":5},{"s":"C","x":1,"y":13},
{"s":"D","x":0,"y":4},{"s":"D","x":0.5,"y":4},{"s":"D","x":0.55,"y":5},{"s":"D","x":0.6,"y":6},{"s":"D","x":0.65,"y":6},{"s":"D","x":0.7,"y":7},{"s":"D","x":0.8,"y":7},{"s":"D","x":0.85,"y":8},{"s":"D","x":0.9,"y":8},{"s":"D","x":0.95,"y":7},{"s":"D","x":1,"y":4},
{"s":"E","x":0,"y":5},{"s":"E","x":0.45,"y":5},{"s":"E","x":0.5,"y":6},{"s":"E","x":0.55,"y":6},{"s":"E","x":0.6,"y":5},{"s":"E","x":0.8,"y":5},{"s":"E","x":0.85,"y":6},{"s":"E","x":0.95,"y":6},{"s":"E","x":1,"y":10},
{"s":"F","x":0,"y":6},{"s":"F","x":0.45,"y":6},{"s":"F","x":0.5,"y":5},{"s":"F","x":0.55,"y":4},{"s":"F","x":0.8,"y":4},{"s":"F","x":0.85,"y":3},{"s":"F","x":0.9,"y":2},{"s":"F","x":0.95,"y":1},{"s":"F","x":1,"y":12},
{"s":"G","x":0,"y":7},{"s":"G","x":0.35,"y":7},{"s":"G","x":0.4,"y":8},{"s":"G","x":0.45,"y":8},{"s":"G","x":0.5,"y":9},{"s":"G","x":0.8,"y":9},{"s":"G","x":0.85,"y":10},{"s":"G","x":0.9,"y":10},{"s":"G","x":0.95,"y":9},{"s":"G","x":1,"y":9},
{"s":"H","x":0,"y":9},{"s":"H","x":0.45,"y":9},{"s":"H","x":0.5,"y":8},{"s":"H","x":0.8,"y":8},{"s":"H","x":0.85,"y":9},{"s":"H","x":0.9,"y":9},{"s":"H","x":0.95,"y":11},{"s":"H","x":1,"y":11},
{"s":"I","x":0,"y":8},{"s":"I","x":0.35,"y":8},{"s":"I","x":0.4,"y":7},{"s":"I","x":0.65,"y":7},{"s":"I","x":0.7,"y":6},{"s":"I","x":0.8,"y":6},{"s":"I","x":0.85,"y":5},{"s":"I","x":0.9,"y":5},{"s":"I","x":0.95,"y":3},{"s":"I","x":1,"y":8},
{"s":"J","x":0,"y":11},{"s":"J","x":0.15,"y":11},{"s":"J","x":0.2,"y":10},{"s":"J","x":0.8,"y":10},{"s":"J","x":0.85,"y":7},{"s":"J","x":0.9,"y":7},{"s":"J","x":0.95,"y":8},{"s":"J","x":1,"y":7},
{"s":"K","x":0,"y":10},{"s":"K","x":0.15,"y":10},{"s":"K","x":0.2,"y":11},{"s":"K","x":0.45,"y":11},{"s":"K","x":0.5,"y":12},{"s":"K","x":0.9,"y":12},{"s":"K","x":0.95,"y":10},{"s":"K","x":1,"y":3},
{"s":"L","x":0,"y":13},{"s":"L","x":0.15,"y":13},{"s":"L","x":0.2,"y":14},{"s":"L","x":0.95,"y":14},{"s":"L","x":1,"y":2},
{"s":"M","x":0,"y":14},{"s":"M","x":0.15,"y":14},{"s":"M","x":0.2,"y":13},{"s":"M","x":0.95,"y":13},{"s":"M","x":1,"y":5},
{"s":"N","x":0,"y":12},{"s":"N","x":0.45,"y":12},{"s":"N","x":0.5,"y":11},{"s":"N","x":0.9,"y":11},{"s":"N","x":0.95,"y":12},{"s":"N","x":1,"y":6}
]
},
"vconcat": [
{"hconcat": [
{"width": 5, "height": 195, "data": {"values": []}, "mark": "point", "view": {"stroke": null}},
{"width": 260, "height": 195, "data": {"name": "map"},
 "layer": [
  {"mark": {"type": "line", "strokeWidth": 2},
   "encoding": {
    "x": {"field": "x", "type": "quantitative", "scale": {"domain": [0, 1], "nice": false}, "axis": {"values": [0,0.1,0.2,0.3,0.4,0.5,0.6,0.7,0.8,0.9,1], "format": ".2~g", "labelExpr": "round(datum.value*10) % 2 == 1 ? '' : datum.label", "labelFontSize": 14, "labelPadding": 7, "title": " ", "titleFontSize": 15, "titlePadding": 0}},
    "y": {"field": "y", "type": "quantitative", "scale": {"domain": [0,0.05,0.1,0.15,0.2,0.25,0.6], "range": [195,162,130,97,58,23,2], "nice": false, "zero": false}, "axis": {"orient": "left", "values": [0,0.05,0.1,0.15,0.2,0.25,0.6], "format": ".2~g", "labelFontSize": 14, "labelPadding": 5, "title": "Score/Rate/Distance", "titleFontSize": 15, "titlePadding": 9}},
    "color": {"field": "s", "type": "nominal", "scale": {"domain": ["A","B","C","D","E","F","G","H","I","J","K","L","M","N"], "range": ["#0000ff","#f5a0dc","#92d050","#00002a","#33f5c8","#00007f","#a0524b","#00868b","#8080ff","#005a00","#00ff00","#ff0000","#ff1fb4","#ffcc00"]}, "legend": null}
   }},
  {"mark": {"type": "line", "opacity": 0}, "encoding": {"y": {"field": "y", "type": "quantitative", "scale": {"domain": [0,0.05,0.1,0.15,0.2,0.25,0.6], "range": [195,162,130,97,58,23,2], "nice": false, "zero": false}, "axis": null}, "x": {"field": "x", "type": "quantitative", "scale": {"domain": [0, 1], "nice": false}, "axis": {"orient": "top", "title": "mAP", "titleFontSize": 25, "titleFontWeight": "bold", "titleColor": "#000000", "titleX": 87, "titleY": -8, "titleAlign": "left", "titleBaseline": "alphabetic", "labels": false, "ticks": false, "domain": false, "grid": false}}}},
  {"mark": {"type": "line", "opacity": 0}, "encoding": {"y": {"field": "y", "type": "quantitative", "scale": {"domain": [0,0.05,0.1,0.15,0.2,0.25,0.6], "range": [195,162,130,97,58,23,2], "nice": false, "zero": false}, "axis": null}, "x": {"field": "x", "type": "quantitative", "scale": {"domain": [0, 1], "nice": false}, "axis": {"orient": "top", "title": "IoU", "titleFontSize": 15, "titleFontWeight": "bold", "titleColor": "#000000", "titleX": 145, "titleY": -6, "titleAlign": "left", "titleBaseline": "alphabetic", "labels": false, "ticks": false, "domain": false, "grid": false}}}}
 ],
 "resolve": {"axis": {"x": "independent", "y": "independent"}}
},
{"width": 262, "height": 191, "data": {"name": "amr"},
 "layer": [
  {"mark": {"type": "line", "strokeWidth": 2},
   "encoding": {
    "x": {"field": "x", "type": "quantitative", "scale": {"domain": [0, 1], "nice": false}, "axis": {"values": [0,0.1,0.2,0.3,0.4,0.5,0.6,0.7,0.8,0.9,1], "format": ".2~g", "labelExpr": "round(datum.value*10) % 2 == 1 ? '' : datum.label", "labelFontSize": 14, "labelPadding": 7, "title": null}},
    "y": {"field": "y", "type": "quantitative", "scale": {"domain": [0.6,0.8,0.85,0.95,1], "range": [189,168,124,49,0], "nice": false, "zero": false}, "axis": {"orient": "left", "values": [0.6,0.8,0.85,0.9,0.95,1], "format": ".2~g", "labelExpr": "datum.value == 0.9 ? '' : datum.label", "labelFontSize": 14, "labelPadding": 5, "title": null}},
    "color": {"field": "s", "type": "nominal", "scale": {"domain": ["A","B","C","D","E","F","G","H","I","J","K","L","M","N"], "range": ["#0000ff","#f5a0dc","#92d050","#00002a","#33f5c8","#00007f","#a0524b","#00868b","#8080ff","#005a00","#00ff00","#ff0000","#ff1fb4","#ffcc00"]}, "legend": null}
   }},
  {"mark": {"type": "line", "opacity": 0}, "encoding": {"y": {"field": "y", "type": "quantitative", "scale": {"domain": [0.6,0.8,0.85,0.95,1], "range": [189,168,124,49,0], "nice": false, "zero": false}, "axis": null}, "x": {"field": "x", "type": "quantitative", "scale": {"domain": [0, 1], "nice": false}, "axis": {"orient": "top", "title": "Log-AMR", "titleFontSize": 25, "titleFontWeight": "bold", "titleColor": "#000000", "titleX": 58, "titleY": -8, "titleAlign": "left", "titleBaseline": "alphabetic", "labels": false, "ticks": false, "domain": false, "grid": false}}}},
  {"mark": {"type": "line", "opacity": 0}, "encoding": {"y": {"field": "y", "type": "quantitative", "scale": {"domain": [0.6,0.8,0.85,0.95,1], "range": [189,168,124,49,0], "nice": false, "zero": false}, "axis": null}, "x": {"field": "x", "type": "quantitative", "scale": {"domain": [0, 1], "nice": false}, "axis": {"orient": "top", "title": "IoU", "titleFontSize": 15, "titleFontWeight": "bold", "titleColor": "#000000", "titleX": 170, "titleY": -6, "titleAlign": "left", "titleBaseline": "alphabetic", "labels": false, "ticks": false, "domain": false, "grid": false}}}}
 ],
 "resolve": {"axis": {"x": "independent", "y": "independent"}}
},
{"width": 261, "height": 193, "data": {"name": "ospa"},
 "layer": [
  {"mark": {"type": "line", "strokeWidth": 2},
   "encoding": {
    "x": {"field": "x", "type": "quantitative", "scale": {"domain": [0, 1], "nice": false}, "axis": {"values": [0,0.1,0.2,0.3,0.4,0.5,0.6,0.7,0.8,0.9,1], "format": ".2~g", "labelExpr": "round(datum.value*10) % 2 == 1 ? '' : datum.label", "labelFontSize": 14, "labelPadding": 7, "title": null}},
    "y": {"field": "y", "type": "quantitative", "scale": {"domain": [0, 0.7135], "nice": false, "zero": false}, "axis": {"orient": "left", "values": [0,0.1,0.2,0.3,0.4,0.5,0.6], "format": ".2~g", "labelExpr": "round(datum.value*10) % 2 == 1 ? '' : datum.label", "labelFontSize": 14, "labelPadding": 5, "title": null}},
    "color": {"field": "s", "type": "nominal", "scale": {"domain": ["A","B","C","D","E","F","G","H","I","J","K","L","M","N"], "range": ["#0000ff","#f5a0dc","#92d050","#00002a","#33f5c8","#00007f","#a0524b","#00868b","#8080ff","#005a00","#00ff00","#ff0000","#ff1fb4","#ffcc00"]}, "legend": null}
   }},
  {"mark": {"type": "line", "opacity": 0}, "encoding": {"y": {"field": "y", "type": "quantitative", "scale": {"domain": [0, 0.7135], "nice": false, "zero": false}, "axis": null}, "x": {"field": "x", "type": "quantitative", "scale": {"domain": [0, 1], "nice": false}, "axis": {"orient": "top", "title": "OSPA", "titleFontSize": 25, "titleFontWeight": "bold", "titleColor": "#000000", "titleX": 71, "titleY": -8, "titleAlign": "left", "titleBaseline": "alphabetic", "labels": false, "ticks": false, "domain": false, "grid": false}}}},
  {"mark": {"type": "line", "opacity": 0}, "encoding": {"y": {"field": "y", "type": "quantitative", "scale": {"domain": [0, 0.7135], "nice": false, "zero": false}, "axis": null}, "x": {"field": "x", "type": "quantitative", "scale": {"domain": [0, 1], "nice": false}, "axis": {"orient": "top", "title": "C, IoU", "titleFontSize": 15, "titleFontWeight": "bold", "titleColor": "#000000", "titleX": 147, "titleY": -6, "titleAlign": "left", "titleBaseline": "alphabetic", "labels": false, "ticks": false, "domain": false, "grid": false}}}}
 ],
 "resolve": {"axis": {"x": "independent", "y": "independent"}}
}
], "spacing": 45, "bounds": "flush"},
{"hconcat": [
{"width": 6.5, "height": 222, "data": {"values": []}, "mark": "point", "view": {"stroke": null}},
{"width": 271, "height": 222, "data": {"name": "rmap"},
 "mark": {"type": "line", "strokeWidth": 2},
 "encoding": {
  "x": {"field": "x", "type": "quantitative", "scale": {"domain": [-0.025, 1.025], "nice": false}, "axis": {"values": [0,0.1,0.2,0.3,0.4,0.5,0.6,0.7,0.8,0.9,1], "format": ".2~g", "labelExpr": "indexof([0,0.5,1], datum.value) >= 0 ? datum.label : ''", "labelFontSize": 16, "labelPadding": 6, "ticks": true, "tickSize": 3, "tickColor": "#999999", "grid": false, "title": "IoU threshold", "titleFontSize": 18, "titlePadding": 2}},
  "y": {"field": "y", "type": "quantitative", "scale": {"domain": [0, 15], "reverse": true, "nice": false, "zero": false}, "axis": {"values": [1,2,3,4,5,6,7,8,9,10,11,12,13,14], "labelExpr": "indexof([1,5,10,14], datum.value) >= 0 ? datum.label : ''", "labelFontSize": 15, "labelPadding": 7, "title": "Rank", "titleFontSize": 19, "titlePadding": 1}},
  "color": {"field": "s", "type": "nominal", "scale": {"domain": ["A","B","C","D","E","F","G","H","I","J","K","L","M","N"], "range": ["#0000ff","#f5a0dc","#92d050","#00002a","#33f5c8","#00007f","#a0524b","#00868b","#8080ff","#005a00","#00ff00","#ff0000","#ff1fb4","#ffcc00"]}, "legend": null}
 }
},
{"width": 272, "height": 222, "data": {"name": "ramr"},
 "mark": {"type": "line", "strokeWidth": 2},
 "encoding": {
  "x": {"field": "x", "type": "quantitative", "scale": {"domain": [-0.025, 1.025], "nice": false}, "axis": {"values": [0,0.1,0.2,0.3,0.4,0.5,0.6,0.7,0.8,0.9,1], "format": ".2~g", "labelExpr": "indexof([0,0.5,1], datum.value) >= 0 ? datum.label : ''", "labelFontSize": 16, "labelPadding": 6, "ticks": true, "tickSize": 3, "tickColor": "#999999", "grid": false, "title": "IoU threshold", "titleFontSize": 18, "titlePadding": 2}},
  "y": {"field": "y", "type": "quantitative", "scale": {"domain": [0, 15], "reverse": true, "nice": false, "zero": false}, "axis": {"values": [1,2,3,4,5,6,7,8,9,10,11,12,13,14], "labelExpr": "indexof([1,5,10,14], datum.value) >= 0 ? datum.label : ''", "labelFontSize": 15, "labelPadding": 7, "title": null}},
  "color": {"field": "s", "type": "nominal", "scale": {"domain": ["A","B","C","D","E","F","G","H","I","J","K","L","M","N"], "range": ["#0000ff","#f5a0dc","#92d050","#00002a","#33f5c8","#00007f","#a0524b","#00868b","#8080ff","#005a00","#00ff00","#ff0000","#ff1fb4","#ffcc00"]}, "legend": null}
 }
},
{"width": 270, "height": 222, "data": {"name": "rospa"},
 "mark": {"type": "line", "strokeWidth": 2},
 "encoding": {
  "x": {"field": "x", "type": "quantitative", "scale": {"domain": [-0.025, 1.025], "nice": false}, "axis": {"values": [0,0.1,0.2,0.3,0.4,0.5,0.6,0.7,0.8,0.9,1], "format": ".2~g", "labelExpr": "indexof([0,0.5,1], datum.value) >= 0 ? datum.label : ''", "labelFontSize": 16, "labelPadding": 6, "ticks": true, "tickSize": 3, "tickColor": "#999999", "grid": false, "title": "IoU threshold", "titleFontSize": 18, "titlePadding": 2}},
  "y": {"field": "y", "type": "quantitative", "scale": {"domain": [0, 15], "reverse": true, "nice": false, "zero": false}, "axis": {"values": [1,2,3,4,5,6,7,8,9,10,11,12,13,14], "labelExpr": "indexof([1,5,10,14], datum.value) >= 0 ? datum.label : ''", "labelFontSize": 15, "labelPadding": 7, "title": null}},
  "color": {"field": "s", "type": "nominal", "scale": {"domain": ["A","B","C","D","E","F","G","H","I","J","K","L","M","N"], "range": ["#0000ff","#f5a0dc","#92d050","#00002a","#33f5c8","#00007f","#a0524b","#00868b","#8080ff","#005a00","#00ff00","#ff0000","#ff1fb4","#ffcc00"]}, "legend": null}
 }
}
], "spacing": 37.5, "bounds": "flush"},
{"width": 940, "height": 154,
 "view": {"stroke": "#555555", "strokeWidth": 1.5},
 "layer": [
  {"data": {"values": []}, "mark": "square",
   "encoding": {"color": {"field": "name", "type": "nominal",
     "scale": {"domain": ["Mask RCNN Inception Resnet v2","ResNext FPN","Mask RCNN Resnet101 FPN","Mask RCNN Resnet101 Atrous","Mask RCNN Resnet50 FPN","Mask RCNN Resnet101|(Dilated Conv5)"], "range": ["#0000ff","#f5a0dc","#92d050","#00002a","#33f5c8","#00007f"]},
     "legend": {"orient": "none", "legendX": 4, "legendY": 2, "direction": "vertical", "title": null, "labelExpr": "split(datum.label, '|')"}}}},
  {"data": {"values": []}, "mark": "square",
   "encoding": {"color": {"field": "name", "type": "nominal",
     "scale": {"domain": ["Mask RCNN Resnet50 FPN -|under trained","Mask RCNN Resnet101","Mask RCNN Resnet50 (Dilated Conv5)","Mask RCNN Resnet50 (Dilated Conv5) -|under trained"], "range": ["#a0524b","#00868b","#8080ff","#005a00"]},
     "legend": {"orient": "none", "legendX": 290, "legendY": 2, "direction": "vertical", "title": null, "labelExpr": "split(datum.label, '|')"}}}},
  {"data": {"values": []}, "mark": "square",
   "encoding": {"color": {"field": "name", "type": "nominal",
     "scale": {"domain": ["Mask RCNN Resnet50 Atrous","Mask RCNN Inception v2","Mask RCNN Resnet50 - under trained","Mask RCNN Resnet50"], "range": ["#00ff00","#ff0000","#ff1fb4","#ffcc00"]},
     "legend": {"orient": "none", "legendX": 631, "legendY": 2, "direction": "vertical", "title": null, "labelExpr": "split(datum.label, '|')"}}}}
 ],
 "resolve": {"scale": {"color": "independent"}, "legend": {"color": "independent"}}
}
],
"spacing": 5
}
